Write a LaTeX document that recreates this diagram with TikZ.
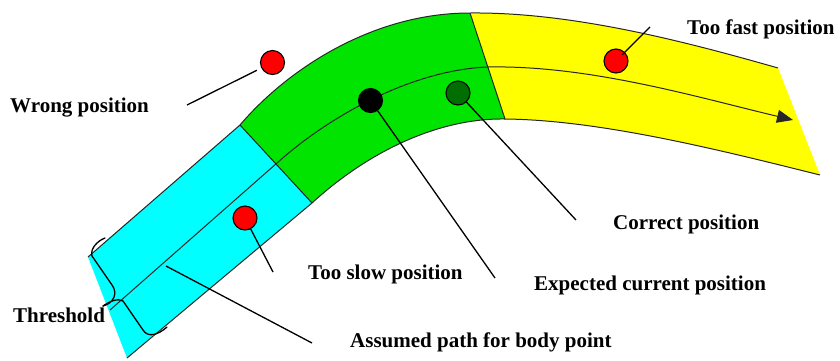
\documentclass[tikz,border=0pt]{standalone}
\usepackage{fontspec}
\setmainfont{Liberation Serif}
\usetikzlibrary{arrows.meta}
\definecolor{bandcyan}{RGB}{0,255,255}
\definecolor{bandgreen}{RGB}{0,228,0}
\definecolor{bandyellow}{RGB}{255,255,0}
\definecolor{dotred}{RGB}{255,0,0}
\definecolor{dotgreen}{RGB}{0,110,0}
\begin{document}
\begin{tikzpicture}[x=1pt,y=-1pt,
  edge/.style={draw=black!85, line width=1pt},
  leader/.style={draw=black, line width=1.3pt},
  bracepath/.style={draw=black, line width=1.3pt, line cap=round, line join=round},
  marker/.style={circle, draw=black, line width=1.1pt, minimum size=24pt, inner sep=0pt},
  lbl/.style={anchor=base west, inner sep=0pt, font=\fontsize{21}{25}\selectfont\bfseries},
]
\useasboundingbox (0,0) rectangle (840,360);
\fill[white] (0,0) rectangle (840,360);

% band corners
\coordinate (o1) at (88,257);  \coordinate (o2) at (240,125);
\coordinate (o3) at (470,13);  \coordinate (o4) at (778,68);
\coordinate (i1) at (127,358); \coordinate (i2) at (312,203);
\coordinate (i3) at (505,119); \coordinate (i4) at (820,175);
% centre line
\coordinate (c1) at (110,310); \coordinate (c2) at (277,163);
\coordinate (c3) at (488,67);  \coordinate (c4) at (793,120);

% fills
\fill[bandcyan] (o1) -- (o2) -- (i2) -- (i1) -- cycle;
\fill[bandgreen] (o2) .. controls (285,72) and (370,13) .. (o3) -- (i3)
  .. controls (440,118) and (370,150) .. (i2) -- cycle;
\fill[bandyellow] (o3) .. controls (570,12) and (680,40) .. (o4) -- (i4)
  .. controls (720,150) and (600,120) .. (i3) -- cycle;

% edges
\draw[edge] (o1) -- (o2) .. controls (285,72) and (370,13) .. (o3)
  .. controls (570,12) and (680,40) .. (o4);
\draw[edge] (i1) -- (i2) .. controls (370,150) and (440,118) .. (i3)
  .. controls (600,120) and (720,150) .. (i4);
\draw[edge] (o2) -- (i2);
\draw[edge] (o3) -- (i3);
\draw[edge, -{Triangle[length=16pt,width=13pt]}] (c1) -- (c2)
  .. controls (327,118) and (410,70) .. (c3)
  .. controls (590,65) and (700,98) .. (c4);

% threshold braces
\draw[bracepath] (105,238) .. controls (97,241) and (90,249) .. (92,256)
  -- (112,285) .. controls (118,293) and (114,303) .. (103,306);
\draw[bracepath] (103,306) .. controls (110,301) and (118,298) .. (123,301)
  -- (143,330) .. controls (148,338) and (158,335) .. (167,327);

% markers
\node[marker, fill=dotred]   (wrongdot) at (272.5,62.5) {};
\node[marker, fill=dotred]   (fastdot)  at (616,61) {};
\node[marker, fill=dotred]   (slowdot)  at (245,218) {};
\node[marker, fill=black]    (expdot)   at (370.5,100.5) {};
\node[marker, fill=dotgreen] (corrdot)  at (458,93) {};

% leader end points
\coordinate (wrongend) at (187,105);
\coordinate (fastend)  at (650,27);
\coordinate (slowend)  at (273,272);
\coordinate (expend)   at (495,278);
\coordinate (corrend)  at (576,220);
\coordinate (pathstart) at (166,266);
\coordinate (pathend)  at (312,343);

\draw[leader, shorten <=5pt] (wrongdot) -- (wrongend);
\draw[leader, shorten <=9pt] (fastdot.center) -- (fastend);
\draw[leader] (slowdot) -- (slowend);
\draw[leader] (expdot) -- (expend);
\draw[leader] (corrdot) -- (corrend);
\draw[leader] (pathstart) -- (pathend);

% labels
\node[lbl] (wronglbl) at (10,112)  {Wrong position};
\node[lbl] (fastlbl)  at (687,34)  {Too fast position};
\node[lbl] (corrlbl)  at (613,229) {Correct position};
\node[lbl] (explbl)   at (534,290) {Expected current position};
\node[lbl] (slowlbl)  at (308,279) {Too slow position};
\node[lbl] (pathlbl)  at (350,347) {Assumed path for body point};
\node[lbl] (thrlbl)   at (13,322)  {Threshold};
\end{tikzpicture}
\end{document}
